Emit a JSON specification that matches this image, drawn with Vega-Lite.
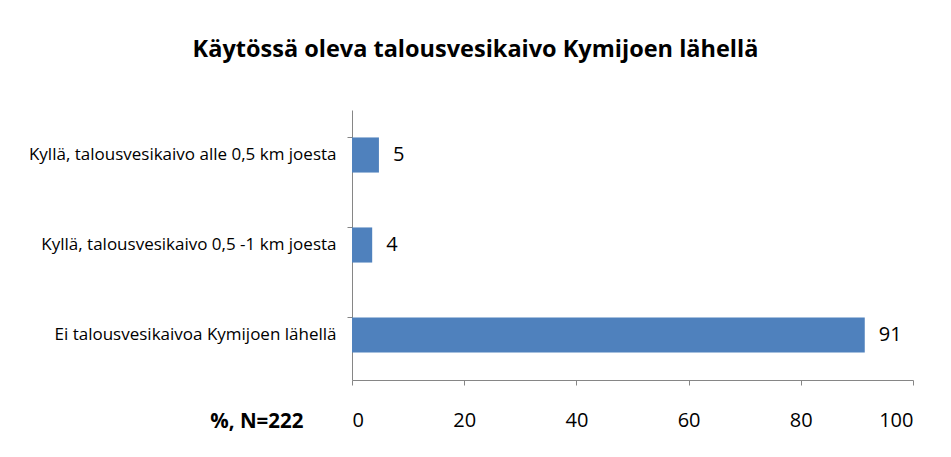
{
  "$schema": "https://vega.github.io/schema/vega-lite/v6.json",
  "width": 561,
  "height": 270,
  "autosize": {"type": "none"},
  "padding": {"left": 352, "top": 110, "right": 38, "bottom": 77},
  "background": "white",
  "title": {
    "text": "Käytössä oleva talousvesikaivo Kymijoen lähellä",
    "font": "Open Sans",
    "fontSize": 23.5,
    "fontWeight": "bold",
    "color": "black",
    "anchor": "middle",
    "frame": "group",
    "dx": -157,
    "offset": 49
  },
  "data": {
    "values": [
      {"category": "Kyllä, talousvesikaivo alle 0,5 km joesta", "value": 4.8},
      {"category": "Kyllä, talousvesikaivo 0,5 -1 km joesta", "value": 3.6},
      {"category": "Ei talousvesikaivoa Kymijoen lähellä", "value": 91.4}
    ]
  },
  "config": {
    "view": {"stroke": null},
    "font": "Open Sans"
  },
  "encoding": {
    "y": {
      "field": "category",
      "type": "nominal",
      "sort": null,
      "scale": {"paddingInner": 0.61, "paddingOuter": 0.305}
    },
    "x": {
      "field": "value",
      "type": "quantitative",
      "scale": {"domain": [0, 100], "nice": false},
      "axis": {
        "values": [0, 20, 40, 60, 80, 100],
        "grid": false,
        "domainColor": "#868686",
        "tickColor": "#868686",
        "tickSize": 5,
        "labelPadding": 25,
        "labelFontSize": 20,
        "labelColor": "black",
        "labelFont": "Open Sans",
        "title": "%, N=222",
        "titleFont": "Open Sans",
        "titleFontSize": 20.5,
        "titleFontWeight": "bold",
        "titleColor": "black",
        "titleAnchor": "end",
        "titleAlign": "right",
        "titleX": -49,
        "titleY": 47,
        "titleBaseline": "alphabetic"
      }
    }
  },
  "layer": [
    {
      "mark": {"type": "bar", "color": "#4F81BD"},
      "encoding": {
        "y": {
          "field": "category",
          "type": "nominal",
          "sort": null,
          "axis": {
            "orient": "left",
            "title": null,
            "ticks": false,
            "domain": true,
            "domainColor": "#868686",
            "labelPadding": 16,
            "labelFontSize": 17,
            "labelColor": "black",
            "labelFont": "Open Sans",
            "labelLimit": 400
          }
        }
      }
    },
    {
      "mark": {"type": "text", "align": "left", "baseline": "middle", "dx": 14, "fontSize": 20, "color": "black"},
      "encoding": {
        "y": {
          "field": "category",
          "type": "nominal",
          "sort": null,
          "axis": {
            "orient": "left",
            "title": null,
            "labels": false,
            "domain": false,
            "ticks": true,
            "tickSize": 5,
            "tickColor": "#868686",
            "bandPosition": 0
          }
        },
        "text": {"field": "value", "type": "quantitative", "format": ".0f"}
      }
    }
  ],
  "resolve": {"axis": {"y": "independent"}}
}
